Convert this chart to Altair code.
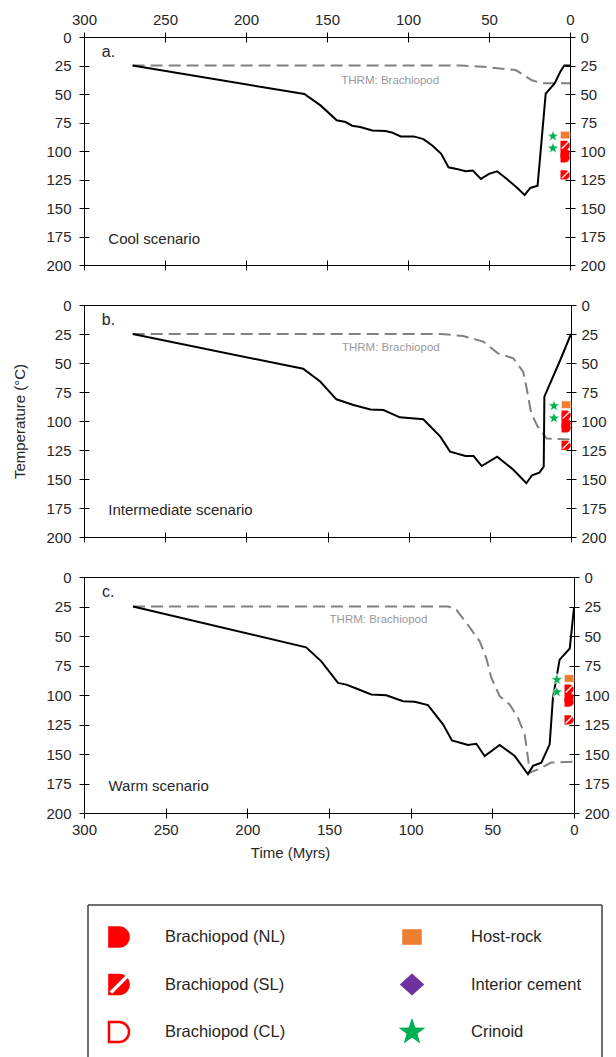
import altair as alt
import pandas as pd

FONT = "Liberation Sans"
TXT = "#262626"

# ---------------- data ----------------
x_ticks = [0, 50, 100, 150, 200, 250, 300]
y_ticks = [0, 25, 50, 75, 100, 125, 150, 175, 200]

# panel a (cool scenario)
a_time = [270, 164, 154, 144, 138.5, 134.5, 129.5, 122, 114, 110, 104.5, 96.5, 90.5, 85, 79.5, 75,
          70, 64.5, 60, 55, 50, 45, 39, 33, 28, 24.5, 20, 15, 9.5, 6, 3.5, 0]
a_temp = [25, 50, 60, 73, 74.6, 77.8, 79, 82, 82.5, 83.7, 87.2, 87.2, 89.6, 95.2, 102.5, 114.3,
          115.7, 117.8, 117.2, 124.5, 120, 117.8, 124.5, 131.9, 138.6, 132.4, 130.4, 49.6, 40.8, 30.5, 25, 25]
a_thrm_time = [270, 67, 54, 33.5, 28.5, 23.5, 17.5, 0]
a_thrm_temp = [25, 25, 26, 29, 33.5, 38, 40.5, 40.5]

# panel b (intermediate scenario)
b_time = [270, 165, 154.5, 144.5, 134, 123.5, 115.5, 105.5, 91, 80.5, 74.5, 65, 60, 55, 45.5, 35.5,
          27.5, 24, 19.5, 16.8, 16.4, 6.6, 0]
b_temp = [25, 55, 66, 81.3, 86.2, 90, 90.5, 96.8, 98.5, 113.5, 126.4, 130.2, 130.2, 138.8, 130.7, 142,
          153.7, 146.8, 144.5, 139.4, 79, 47.4, 25]
b_thrm_time = [270, 80, 66.5, 54, 45, 35.5, 29.5, 27.5, 24.5, 20.5, 15, 0]
b_thrm_temp = [25, 25, 26.7, 31.6, 41.7, 46, 57.5, 70.4, 93.4, 104.9, 115, 116]

# panel c (warm scenario)
c_time = [270, 164, 154.7, 144.5, 139.4, 133.3, 124.1, 114.9, 104.7, 97.5, 89.4, 80.2, 74.7, 64.9, 59.8,
          54.7, 45.5, 36.3, 28.2, 25.1, 20, 14.9, 12.9, 8.8, 2.6, 0]
c_temp = [25, 59.6, 71.5, 89.8, 91.2, 94.5, 99.6, 100.2, 105.2, 105.8, 108.6, 124.9, 138.5, 142.4, 141.3,
          151.7, 142.4, 151.7, 167.2, 160.1, 157.3, 141.8, 102.4, 70, 60.6, 26]
c_thrm_time = [270, 77, 72, 65, 57.7, 53.7, 50.6, 45.5, 39.4, 34.3, 30.2, 28.2, 27.1, 22, 14, 0]
c_thrm_temp = [25, 25, 27.8, 40.5, 54.6, 68.7, 85.6, 101, 108, 119.3, 133.4, 153.1, 165.8, 163, 157.3, 156.5]

# sample markers (same in each panel)
crinoid_time = [10.5, 10.5]
crinoid_temp = [87, 97.5]
host_time = [3]
host_temp = [86]
nl_time = [3, 3]
nl_temp = [102, 106]
sl_time = [3, 3]
sl_temp = [95, 121]

panel_letters = ["a.", "b.", "c."]
scenario_labels = ["Cool scenario", "Intermediate scenario", "Warm scenario"]
thrm_label = "THRM:  Brachiopod"

legend_names = ["Brachiopod (NL)", "Brachiopod (SL)", "Brachiopod (CL)", "Host-rock", "Interior cement", "Crinoid"]
legend_col = [0, 0, 0, 1, 1, 1]
legend_row = [0, 1, 2, 0, 1, 2]

# ---------------- shapes ----------------
D_SHAPE = "M-1,-1H0A1,1,0,0,1,0,1H-1Z"
STRIPE = "M-0.75,0.75L0.75,-0.75"
STAR = ("M0,-1L0.2351,-0.3236L0.9511,-0.309L0.3804,0.1236L0.5878,0.809L0,0.4L-0.5878,0.809"
        "L-0.3804,0.1236L-0.9511,-0.309L-0.2351,-0.3236Z")
DIAMOND = "M0,-0.9L1,0L0,0.9L-1,0Z"
RECT = "M-1,-0.8H1V0.8H-1Z"

RED = "#FF0000"
ORANGE = "#ED7D31"
GREEN = "#00B050"
PURPLE = "#7030A0"


def ax(orient, values, labels=True, pad=4, **kw):
    return alt.Axis(orient=orient, values=values, labels=labels, domain=False, offset=-5, tickSize=10,
                    tickColor="black", tickWidth=1, labelFont=FONT, labelFontSize=15, labelColor=TXT,
                    labelPadding=pad, labelFlush=False, labelOverlap=False, grid=False, **kw)


def pts(t, T):
    return pd.DataFrame({"t": t, "T": T})


def panel(time, temp, ttime, ttemp, letter, scen, thrm_pos, w, h, top_labels, bottom_labels, xtitle, ytitle):
    xs = alt.Scale(domain=[0, 300], reverse=True, nice=False)
    ys = alt.Scale(domain=[0, 200], reverse=True, nice=False)

    if xtitle:
        bottom = ax("bottom", x_ticks, bottom_labels, 4, title=xtitle, titleFont=FONT, titleFontSize=15,
                    titleFontWeight="normal", titleColor=TXT, titlePadding=8, titleX=206)
    else:
        bottom = ax("bottom", x_ticks, bottom_labels, 4, title=None)
    if ytitle:
        left = ax("left", y_ticks, True, 8, title=ytitle, titleFont=FONT, titleFontSize=15,
                  titleFontWeight="normal", titleColor=TXT, titlePadding=18)
    else:
        left = ax("left", y_ticks, True, 8, title=None)
    right = ax("right", y_ticks, True, 5, title=None)

    burial = pd.DataFrame({"t": time, "T": temp, "i": list(range(len(time)))})
    thrm = pd.DataFrame({"t": ttime, "T": ttemp, "i": list(range(len(ttime)))})

    if top_labels:
        xdash = alt.X("t:Q", scale=xs, axis=ax("top", x_ticks, True, 5, title=None))
    else:
        xdash = alt.X("t:Q", scale=xs, axis=None)

    dash = alt.Chart(thrm).mark_line(color="#808080", strokeWidth=2, strokeDash=[12, 6]).encode(
        x=xdash, y=alt.Y("T:Q", scale=ys, axis=right), order="i:Q")
    line = alt.Chart(burial).mark_line(color="black", strokeWidth=2).encode(
        x=alt.X("t:Q", scale=xs, axis=bottom), y=alt.Y("T:Q", scale=ys, axis=left), order="i:Q")

    def enc():
        return dict(x=alt.X("t:Q", scale=xs, axis=None), y=alt.Y("T:Q", scale=ys, axis=None))

    star = alt.Chart(pts(crinoid_time, crinoid_temp)).mark_point(
        shape=STAR, filled=True, fill=GREEN, stroke="white", strokeWidth=0.8, size=160, opacity=1).encode(**enc())
    host = alt.Chart(pts(host_time, host_temp)).mark_point(
        shape=RECT, filled=True, fill=ORANGE, stroke="white", strokeWidth=0.6, size=90, opacity=1).encode(**enc())
    nl = alt.Chart(pts(nl_time, nl_temp)).mark_point(
        shape=D_SHAPE, filled=True, fill=RED, size=85, opacity=1).encode(**enc())
    sl = alt.Chart(pts(sl_time, sl_temp)).mark_point(
        shape=D_SHAPE, filled=True, fill=RED, size=85, opacity=1).encode(**enc())
    sl_s = alt.Chart(pts(sl_time, sl_temp)).mark_point(
        shape=STRIPE, filled=False, stroke="white", strokeWidth=1.3, size=85, opacity=1).encode(**enc())

    t_letter = alt.Chart(pd.DataFrame({"t": [289], "T": [13], "s": [letter]})).mark_text(
        align="left", baseline="middle", font=FONT, fontSize=16, color=TXT).encode(text="s:N", **enc())
    t_scen = alt.Chart(pd.DataFrame({"t": [285], "T": [177], "s": [scen]})).mark_text(
        align="left", baseline="middle", font=FONT, fontSize=15, color=TXT).encode(text="s:N", **enc())
    t_thrm = alt.Chart(pd.DataFrame({"t": [thrm_pos[0]], "T": [thrm_pos[1]], "s": [thrm_label]})).mark_text(
        align="center", baseline="middle", font=FONT, fontSize=11.5, color="#999999").encode(text="s:N", **enc())

    return alt.layer(dash, line, star, host, nl, sl, sl_s, t_letter, t_scen, t_thrm).resolve_axis(
        x="independent", y="independent").properties(width=w, height=h)


pa = panel(a_time, a_temp, a_thrm_time, a_thrm_temp, panel_letters[0], scenario_labels[0], (111, 38.5),
           486, 228, True, False, None, None)
pb = panel(b_time, b_temp, b_thrm_time, b_thrm_temp, panel_letters[1], scenario_labels[1], (111, 37.3),
           487, 232, False, False, None, "Temperature (°C)")
pc = panel(c_time, c_temp, c_thrm_time, c_thrm_temp, panel_letters[2], scenario_labels[2], (119.7, 36.2),
           490, 236, False, True, "Time (Myrs)", None)

# ---------------- legend ----------------
leg = pd.DataFrame({"name": legend_names, "col": legend_col, "row": legend_row})
LW, LH = 520, 205
lx = alt.Scale(domain=[0, 1], range=[35, 328])
ly = alt.Scale(domain=[0, 2], range=[84, 179])
tx = alt.Scale(domain=[0, 1], range=[81, 387])


def sym(name, **mk):
    return alt.Chart(leg[leg.name == name]).mark_point(opacity=1, **mk).encode(
        x=alt.X("col:Q", scale=lx, axis=None), y=alt.Y("row:Q", scale=ly, axis=None))


one = pd.DataFrame({"k": [0]})
frame_col = "#404040"
fl = alt.Chart(one).mark_rule(color=frame_col, strokeWidth=1.5).encode(
    x=alt.value(4), y=alt.value(52), y2=alt.value(LH))
fr = alt.Chart(one).mark_rule(color=frame_col, strokeWidth=1.5).encode(
    x=alt.value(518), y=alt.value(52), y2=alt.value(LH))
ft = alt.Chart(one).mark_rule(color=frame_col, strokeWidth=1.5).encode(
    x=alt.value(4), x2=alt.value(518), y=alt.value(52))

leg_layers = [
    fl, fr, ft,
    sym("Brachiopod (NL)", shape=D_SHAPE, filled=True, fill=RED, size=470),
    sym("Brachiopod (SL)", shape=D_SHAPE, filled=True, fill=RED, size=470),
    sym("Brachiopod (SL)", shape=STRIPE, filled=False, stroke="white", strokeWidth=3.5, size=470),
    sym("Brachiopod (CL)", shape=D_SHAPE, filled=False, stroke=RED, strokeWidth=2.5, size=400),
    sym("Host-rock", shape=RECT, filled=True, fill=ORANGE, size=380),
    sym("Interior cement", shape=DIAMOND, filled=True, fill=PURPLE, size=600),
    sym("Crinoid", shape=STAR, filled=True, fill=GREEN, size=800),
    alt.Chart(leg).mark_text(align="left", baseline="middle", font=FONT, fontSize=16.5, color=TXT).encode(
        x=alt.X("col:Q", scale=tx, axis=None), y=alt.Y("row:Q", scale=ly, axis=None), text="name:N"),
]
legend = alt.layer(*leg_layers).resolve_scale(x="independent").properties(
    width=LW, height=LH, view=alt.ViewBackground(stroke="transparent"))

chart = alt.vconcat(pa, pb, pc, legend, spacing=40, bounds="flush").properties(
    padding={"left": 12, "top": 11, "right": 0, "bottom": 0}
).configure_view(stroke="black", strokeWidth=1)

chart.save("out.html", embed_options={"renderer": "svg", "actions": False})
